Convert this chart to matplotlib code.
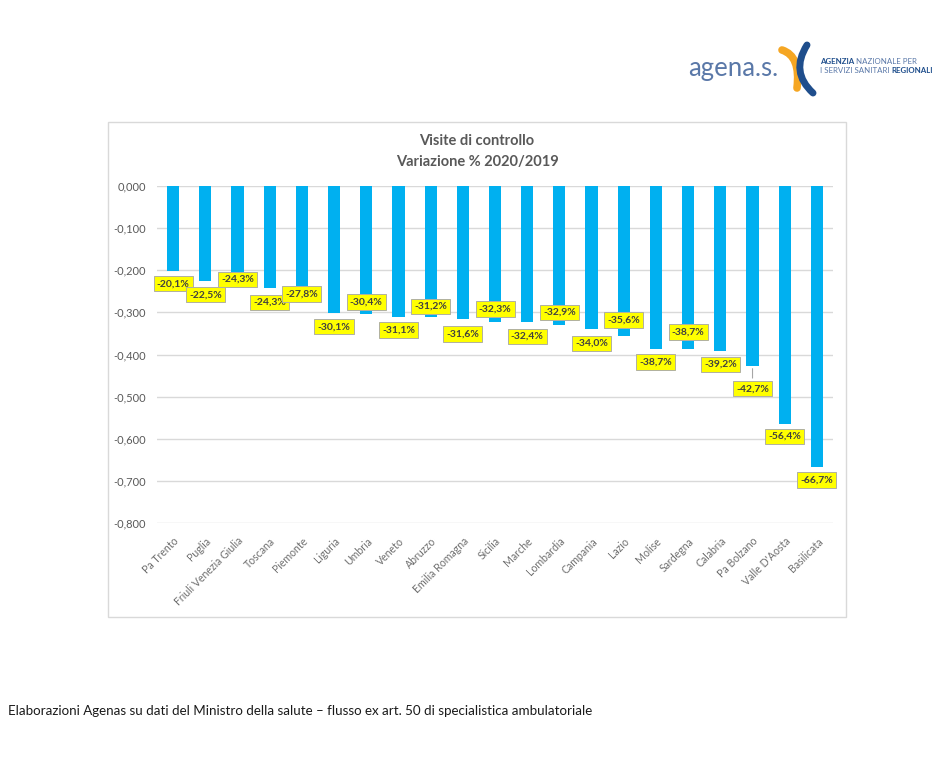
import matplotlib
matplotlib.use("Agg")
import matplotlib.pyplot as plt
from matplotlib.patches import Rectangle, PathPatch
from matplotlib.path import Path
import numpy as np

regions = ["Pa Trento", "Puglia", "Friuli Venezia Giulia", "Toscana", "Piemonte",
           "Liguria", "Umbria", "Veneto", "Abruzzo", "Emilia Romagna", "Sicilia",
           "Marche", "Lombardia", "Campania", "Lazio", "Molise", "Sardegna",
           "Calabria", "Pa Bolzano", "Valle D'Aosta", "Basilicata"]
variation = [-0.201, -0.225, -0.243, -0.243, -0.278, -0.301, -0.304, -0.311,
             -0.312, -0.316, -0.323, -0.324, -0.329, -0.340, -0.356, -0.387,
             -0.387, -0.392, -0.427, -0.564, -0.667]
y_ticks = [0.0, -0.1, -0.2, -0.3, -0.4, -0.5, -0.6, -0.7, -0.8]

# label placement (pixels below bar end; negative = above)
label_offsets = [13, 14, -9, 14, -9, 14, -12, 13, -11, 15, -13, 14, -12, 14,
                 -16, 13, -17, 13, 23, 13, 13]

plt.rcParams['font.family'] = ['Lato', 'DejaVu Sans']
W, H = 936, 768
fig = plt.figure(figsize=(W / 100, H / 100), dpi=100)
fig.patch.set_facecolor('white')

# overlay axes in pixel coordinates
ov = fig.add_axes([0, 0, 1, 1], zorder=0)
ov.set_xlim(0, W)
ov.set_ylim(H, 0)
ov.axis('off')

# chart frame
ov.add_patch(Rectangle((108, 122), 738, 495, fill=False, edgecolor='#D9D9D9', lw=1.0))

# plot axes
px_l, px_r, px_t, px_b = 157, 833, 186, 523
ax = fig.add_axes([px_l / W, 1 - px_b / H, (px_r - px_l) / W, (px_b - px_t) / H], zorder=2)
ax.patch.set_alpha(0)
x = np.arange(len(regions))
ax.bar(x, variation, width=0.38, color='#00B0F0', zorder=3)
ax.set_xlim(-0.5, len(regions) - 0.5)
ax.set_ylim(-0.8, 0.0)
ax.set_yticks(y_ticks)
ax.set_yticklabels([f"{v:.3f}".replace('.', ',') for v in y_ticks])
ax.grid(axis='y', color='#D9D9D9', lw=1.0, zorder=0)
ax.set_axisbelow(True)
for s in ax.spines.values():
    s.set_visible(False)
ax.tick_params(axis='both', length=0, colors='#595959')
ax.tick_params(axis='y', labelsize=8, pad=8)
ax.set_xticks(x)
ax.set_xticklabels(regions, rotation=45, ha='right', va='top',
                   rotation_mode='anchor', fontsize=7.6, color='#6F6F6F')
ax.tick_params(axis='x', pad=9)

for i, (v, off) in enumerate(zip(variation, label_offsets)):
    txt = f"{v * 100:.1f}%".replace('.', ',')
    ax.annotate(txt, xy=(i, v), xytext=(0, -off), textcoords='offset pixels',
                ha='center', va='center', fontsize=7.5, fontweight='bold',
                color='#404040', zorder=5, annotation_clip=False,
                bbox=dict(boxstyle='square,pad=0.3', fc='#FFFF00', ec='#B0B0A0', lw=0.7))
    if off > 18:
        ax.annotate('', xy=(i, v), xytext=(0, -off + 8), textcoords='offset pixels',
                    arrowprops=dict(arrowstyle='-', color='#A6A6A6', lw=0.8),
                    annotation_clip=False)

# title
ov.text(477, 141, "Visite di controllo", ha='center', va='center',
        fontsize=10.5, fontweight='bold', color='#595959')
ov.text(477, 162, "Variazione % 2020/2019", ha='center', va='center',
        fontsize=10.5, fontweight='bold', color='#595959')

# caption
ov.text(8, 711, "Elaborazioni Agenas su dati del Ministro della salute \u2013 flusso ex art. 50 di specialistica ambulatoriale",
        ha='left', va='center', fontsize=9.6, color='#1a1a1a')

# logo
ov.text(688, 76, "agena.s.", ha='left', va='baseline', fontsize=18.5,
        color='#5A78A8')
orange = Path([(782, 50), (801, 56), (797, 88)], [Path.MOVETO, Path.CURVE3, Path.CURVE3])
ov.add_patch(PathPatch(orange, fill=False, edgecolor='#F5A623', lw=5.5, capstyle='round'))
blue = Path([(807, 45), (790, 72), (813, 93)], [Path.MOVETO, Path.CURVE3, Path.CURVE3])
ov.add_patch(PathPatch(blue, fill=False, edgecolor='#1F4E8C', lw=5.0, capstyle='round'))

renderer = fig.canvas.get_renderer()
inv = ov.transData.inverted()


def run_text(x0, y0, parts, size, gap=1.8):
    xc = x0
    for s, bold, col in parts:
        t = ov.text(xc, y0, s, ha='left', va='baseline', fontsize=size,
                    fontweight='bold' if bold else 'normal', color=col)
        bb = t.get_window_extent(renderer=renderer)
        xc = inv.transform((bb.x1, 0))[0] + gap
    return xc


run_text(820, 64, [("AGENZIA", True, '#1F4E8C'), ("NAZIONALE PER", False, '#5A78A8')], 5.7)
run_text(820, 73, [("I SERVIZI SANITARI", False, '#5A78A8'), ("REGIONALI", True, '#1F4E8C')], 5.7)

fig.savefig("out.png", dpi=100, facecolor='white')
